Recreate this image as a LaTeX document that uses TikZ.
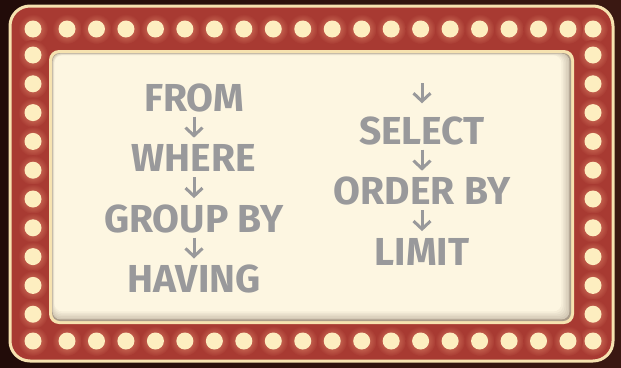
\documentclass[tikz,border=0pt]{standalone}
\usepackage{fontspec}
\setmainfont{Fira Sans}
\usetikzlibrary{arrows.meta,positioning}
\definecolor{nightbg}{RGB}{58,24,18}
\definecolor{nightdark}{RGB}{34,12,9}
\definecolor{marqueered}{RGB}{168,58,50}
\definecolor{glowred}{RGB}{220,132,104}
\definecolor{bulbcream}{RGB}{253,238,192}
\definecolor{rimcream}{RGB}{246,226,176}
\definecolor{panelcream}{RGB}{253,246,225}
\definecolor{panelshade}{RGB}{170,156,138}
\definecolor{clausegray}{RGB}{153,153,155}
\tikzset{
  clause/.style={font=\bfseries\fontsize{39}{39}\selectfont,text=clausegray,
                 inner sep=0pt,text height=27pt,text depth=0pt},
  flow/.style  ={-{Straight Barb[length=8pt,width=17pt]},line width=3pt,
                 draw=clausegray,shorten <=5pt,shorten >=7pt}
}
\newcommand\marqueebulb[1]{%
  \shade[inner color=glowred,outer color=marqueered] #1 circle (15pt);
  \fill[bulbcream] #1 circle (8.5pt);}

\begin{document}
\begin{tikzpicture}[x=1pt,y=-1pt,node distance=33pt]
  % backdrop and frame
  \shade[left color=nightdark,right color=nightbg] (0,0) rectangle (621,367);
  \draw[rimcream,line width=3pt,fill=marqueered,rounded corners=20pt]
    (10,6) rectangle (613,361);

  % light bulbs
  \foreach \y in {29,341} {
    \marqueebulb{(33,\y)}
    \marqueebulb{(593,\y)}
    \foreach \k in {0,...,17} {\marqueebulb{({67+29.47*\k},\y)}}
  }
  \foreach \x in {33,593} {
    \foreach \k in {0,...,9} {\marqueebulb{(\x,{55+28.8*\k})}}
  }

  % sign panel with inner shadow
  \fill[rimcream,rounded corners=10pt] (49,50) rectangle (574,324);
  \fill[panelshade,rounded corners=8pt] (52,53) rectangle (571,321);
  \foreach \i [evaluate=\i as \mix using int(40+10*\i)] in {1,...,6}
    \fill[panelcream!\mix!panelshade,rounded corners=8pt]
      ({52+0.4*\i},{53+0.4*\i}) rectangle ({571-1.6*\i},{321-1.6*\i});

  % clauses
  \node[clause] (from) at (194,98) {FROM};
  \node[clause,below=of from]  (where)  {WHERE};
  \node[clause,below=of where] (group)  {GROUP BY};
  \node[clause,below=of group] (having) {HAVING};

  \node[clause] (select) at (422,131) {SELECT};
  \node[clause,below=of select] (order) {ORDER BY};
  \node[clause,below=of order]  (limit) {LIMIT};
  \coordinate[above=34pt of select.north] (entry);

  \draw[flow] (from) -- (where);
  \draw[flow] (where) -- (group);
  \draw[flow] (group) -- (having);
  \draw[flow,shorten <=0pt,shorten >=14pt] (entry) -- (select);
  \draw[flow] (select) -- (order);
  \draw[flow] (order) -- (limit);
\end{tikzpicture}
\end{document}
